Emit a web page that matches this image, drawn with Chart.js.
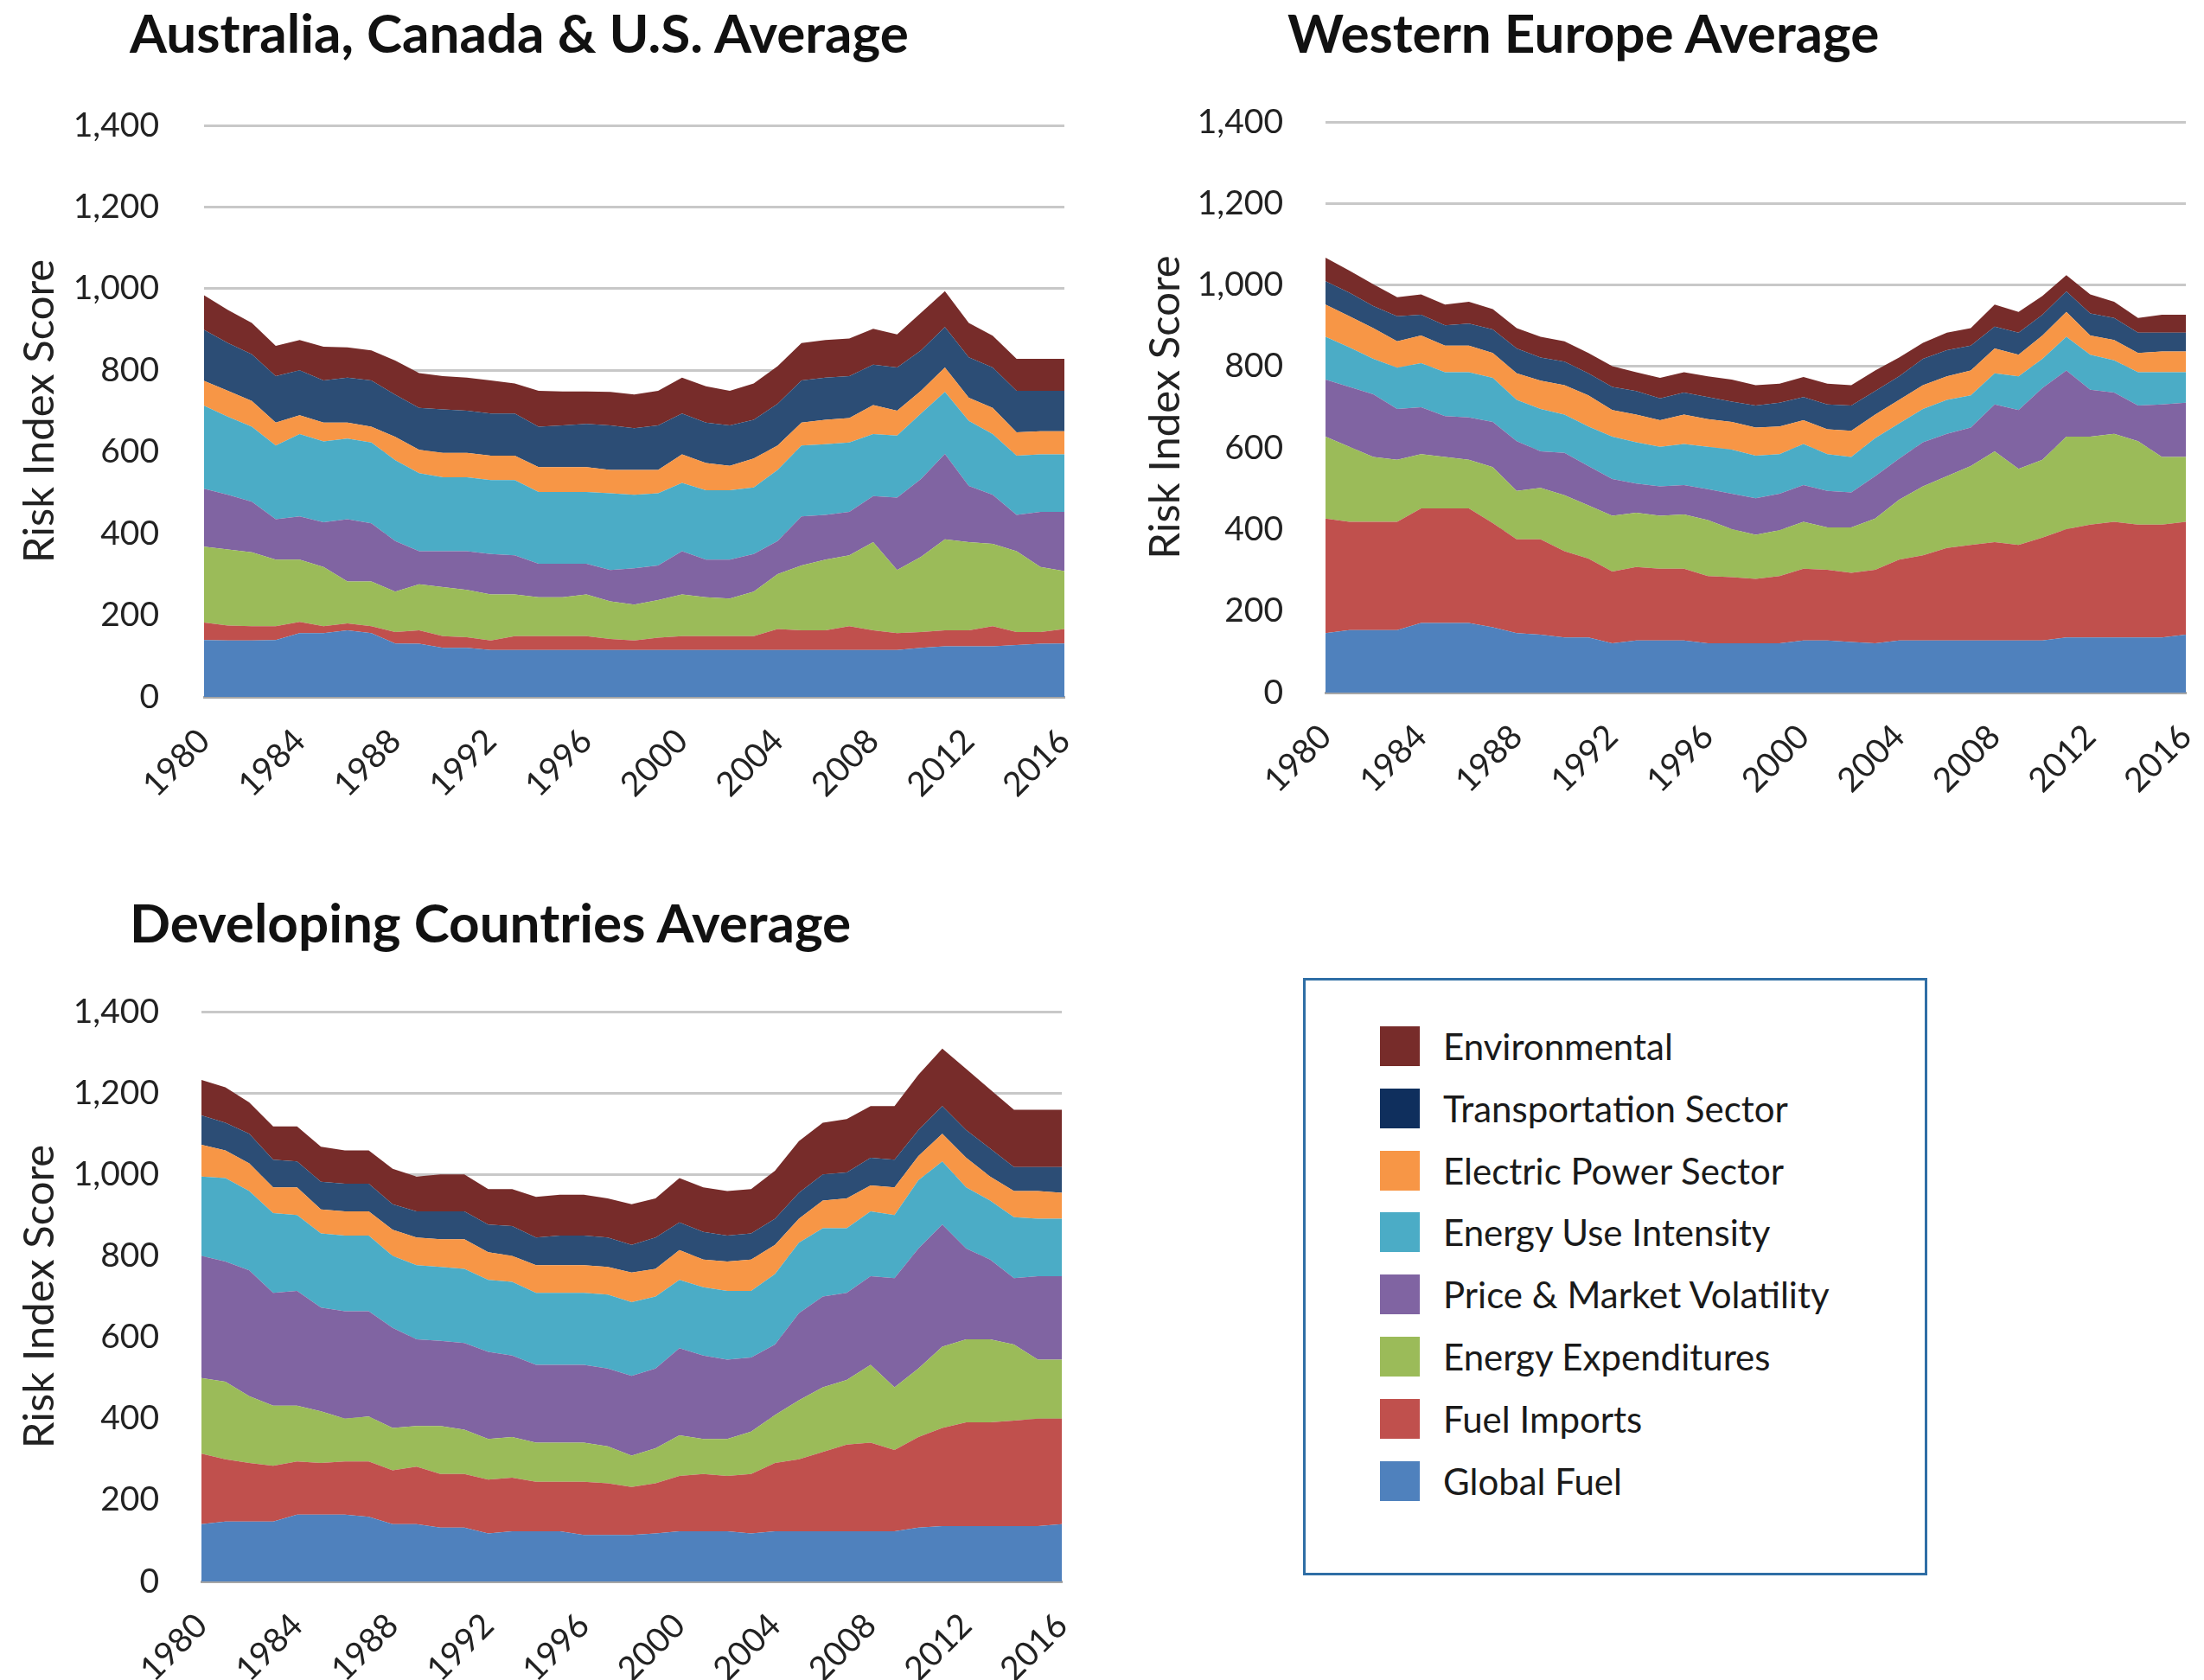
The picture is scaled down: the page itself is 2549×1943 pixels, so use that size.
<!DOCTYPE html>
<html>
<head>
<meta charset="utf-8">
<script src="https://cdn.jsdelivr.net/npm/chart.js@4.4.1/dist/chart.umd.min.js"></script>
<style>
html,body{margin:0;padding:0;background:#ffffff;}
#page{position:relative;width:2549px;height:1943px;overflow:hidden;font-family:Lato, "Open Sans", sans-serif;background:#fff;}
.title{position:absolute;font-weight:700;font-size:62px;color:#111;white-space:nowrap;line-height:1;}
canvas{position:absolute;}
#legend{position:absolute;left:1507px;top:1131px;width:716px;height:685px;border:3px solid #2f6ea5;}
.item{position:absolute;left:86px;width:620px;height:46px;}
.sw{position:absolute;left:0;top:0;width:46px;height:46px;}
.lab{position:absolute;left:73px;top:50%;transform:translateY(-50%);font-size:42px;color:#1a1a1a;white-space:nowrap;line-height:1;}
</style>
</head>
<body>
<div id="page">
  <div class="title" id="t1" style="left:150px;top:6px;"></div>
  <div class="title" id="t2" style="left:1489px;top:6px;"></div>
  <div class="title" id="t3" style="left:150px;top:1035px;"></div>
  <canvas id="c1" width="1250" height="826" style="left:0px;top:100px;"></canvas>
  <canvas id="c2" width="1249" height="825" style="left:1300px;top:96px;"></canvas>
  <canvas id="c3" width="1250" height="818" style="left:0px;top:1125px;"></canvas>
  <div id="legend"></div>
</div>
<script>
// ---------- DATA ----------
const years = [1980,1981,1982,1983,1984,1985,1986,1987,1988,1989,1990,1991,1992,1993,1994,1995,1996,1997,1998,1999,2000,2001,2002,2003,2004,2005,2006,2007,2008,2009,2010,2011,2012,2013,2014,2015,2016];
const xTickLabels = ['1980','1984','1988','1992','1996','2000','2004','2008','2012','2016'];
const yTickValues = [0,200,400,600,800,1000,1200,1400];
const chartTitles = ['Australia, Canada & U.S. Average','Western Europe Average','Developing Countries Average'];
const yAxisTitle = 'Risk Index Score';
// bottom to top stacking order
const seriesNames = ['Global Fuel','Fuel Imports','Energy Expenditures','Price & Market Volatility','Energy Use Intensity','Electric Power Sector','Transportation Sector','Environmental'];

// Australia, Canada & U.S. Average
const acuGlobalFuel = [139,138,138,139,156,156,163,156,131,130,120,120,115,115,115,115,115,115,115,115,115,115,115,115,115,115,115,115,115,115,120,124,124,124,127,130,131];
const acuFuelImports = [43,37,35,34,28,17,17,17,28,33,29,26,23,34,34,34,34,27,23,30,34,34,34,34,51,48,48,58,48,41,39,39,39,49,32,29,35];
const acuExpenditures = [186,186,181,163,152,145,103,110,99,113,120,116,113,102,95,95,102,92,88,92,102,95,92,109,135,159,173,174,216,155,184,223,216,202,198,159,142];
const acuPriceVolatility = [142,134,124,99,106,110,152,142,124,81,88,95,99,96,82,82,75,77,89,85,106,92,95,92,81,120,110,106,113,177,191,209,138,120,89,135,145];
const acuEnergyUse = [203,191,184,181,202,198,198,198,198,191,181,181,181,184,176,176,176,188,180,177,167,170,170,163,174,174,173,170,152,152,160,152,159,149,145,141,141];
const acuElectric = [61,64,63,56,46,46,39,39,57,57,60,60,60,60,61,61,61,57,61,57,70,67,60,71,60,56,60,60,71,61,56,60,57,64,57,57,57];
const acuTransport = [125,117,114,114,110,103,110,113,103,103,106,103,103,103,99,102,106,109,102,109,100,99,99,95,102,103,103,103,99,106,99,99,99,99,102,99,99];
const acuEnvironmental = [85,81,77,74,74,83,74,74,84,85,82,81,81,74,88,83,79,82,83,85,88,89,85,89,92,92,92,92,88,81,92,88,84,78,78,78,78];

// Western Europe Average
const weGlobalFuel = [146,153,153,153,171,171,171,160,146,142,135,135,121,128,128,128,121,121,121,121,128,128,124,121,128,128,128,128,128,128,128,135,135,135,135,135,142];
const weFuelImports = [281,266,266,266,281,281,281,256,230,234,212,194,176,180,176,176,165,162,158,165,176,173,170,180,198,209,227,234,241,234,252,266,277,284,277,277,277];
const weExpenditures = [201,184,159,152,133,126,119,137,119,126,137,130,137,133,130,133,137,118,108,112,115,104,111,126,147,169,176,194,223,187,191,227,216,216,205,166,159];
const wePriceVolatility = [140,147,154,125,115,100,104,111,122,90,104,97,90,72,72,72,76,87,90,90,90,90,86,104,101,108,104,94,115,144,176,162,115,101,87,129,133];
const weEnergyUse = [105,97,87,101,108,108,111,108,101,104,94,97,104,101,97,101,104,108,104,97,101,90,87,93,86,82,83,79,76,83,72,83,86,79,82,79,75];
const weElectric = [79,76,75,65,68,65,65,61,65,69,72,76,65,68,65,72,68,68,69,68,58,61,64,58,58,58,58,61,61,53,57,61,47,50,47,51,51];
const weTransport = [57,58,54,61,51,50,54,58,61,57,58,54,57,58,54,54,54,50,54,58,57,61,62,58,58,65,64,61,54,54,51,50,54,54,50,46,46];
const weEnvironmental = [58,54,54,47,50,51,54,50,50,51,50,50,51,46,50,50,51,54,50,47,49,51,50,50,46,39,43,43,54,51,46,40,47,40,36,44,44];

// Developing Countries Average
const dcGlobalFuel = [141,147,147,147,164,164,164,159,141,141,132,132,118,123,123,123,114,114,114,118,123,123,123,118,123,123,123,123,123,123,132,136,136,136,136,136,141];
const dcFuelImports = [173,153,144,137,131,127,131,136,132,141,132,132,132,132,122,122,131,127,118,123,136,141,136,146,168,177,195,213,218,200,223,241,255,255,259,264,259];
const dcExpenditures = [186,191,164,148,137,127,105,110,104,100,118,109,100,100,96,96,96,91,77,86,100,86,91,104,118,145,159,159,191,154,168,200,204,204,187,145,145];
const dcPriceVolatility = [300,295,309,277,282,255,264,259,246,213,209,213,214,200,191,191,191,191,196,196,214,205,195,182,173,214,223,214,218,268,295,300,223,196,163,205,205];
const dcEnergyUse = [195,205,195,196,186,182,186,186,177,182,182,182,177,181,177,177,177,182,181,177,168,168,169,164,173,173,168,159,159,155,168,155,150,145,150,141,141];
const dcElectric = [78,68,68,63,68,59,59,59,64,68,68,73,68,64,68,68,68,68,73,68,73,68,72,77,72,59,68,73,64,68,59,68,73,59,64,68,64];
const dcTransport = [72,68,73,68,64,68,68,68,63,64,68,68,68,73,68,73,73,72,68,77,68,68,64,64,64,64,64,64,68,68,64,68,68,69,59,59,63];
const dcEnvironmental = [87,87,77,82,86,86,82,82,87,86,91,91,87,91,100,100,100,96,100,96,109,109,109,109,118,127,127,131,127,132,136,141,150,145,141,141,141];

// ---------- STYLE ----------
const fillColors = ['#4f81bd','#c0504d','#9bbb59','#8064a2','#4bacc6','#f79646','#2c4d75','#772c2a'];
const legendColors = ['#4f81bd','#c0504d','#9bbb59','#8064a2','#4bacc6','#f79646','#0f2f5d','#772c2a'];
const FONT = 'Lato, "Open Sans", sans-serif';

function makeChart(id, series, g) {
  const ctx = document.getElementById(id);
  return new Chart(ctx, {
    type: 'line',
    data: {
      labels: years.map(String),
      datasets: series.map((d, i) => ({
        label: seriesNames[i],
        data: d,
        backgroundColor: fillColors[i],
        borderColor: fillColors[i],
        borderWidth: 0,
        pointRadius: 0,
        tension: 0,
        fill: i === 0 ? 'origin' : '-1'
      }))
    },
    options: {
      responsive: false,
      animation: false,
      devicePixelRatio: 1,
      layout: { padding: { left: 0, right: g.padRight, top: g.padTop, bottom: 0 } },
      plugins: { legend: { display: false }, tooltip: { enabled: false }, title: { display: false } },
      scales: {
        x: {
          grid: { display: false, drawTicks: false },
          border: { display: true, color: '#a6a6a6', width: 3 },
          ticks: {
            autoSkip: false, maxRotation: 45, minRotation: 45, padding: g.xTickPad,
            font: { family: FONT, size: 39 }, color: '#222',
            callback: function (v, i) { const l = String(years[i]); return xTickLabels.includes(l) ? l : ''; }
          },
          afterFit: (s) => { s.height = g.xHeight; s.paddingLeft = 0; s.paddingRight = 0; }
        },
        y: {
          stacked: true, min: yTickValues[0], max: yTickValues[yTickValues.length - 1],
          afterBuildTicks: (s) => { s.ticks = yTickValues.map(v => ({ value: v })); },
          grid: { color: '#c8c8c8', lineWidth: 3, drawTicks: false },
          border: { display: false },
          ticks: {
            padding: g.yTickPad, font: { family: FONT, size: 39 }, color: '#222',
            callback: (v) => Number(v).toLocaleString('en-US')
          },
          title: { display: true, text: yAxisTitle, font: { family: FONT, size: 49 }, color: '#222', padding: { top: g.titlePad, bottom: 0 } },
          afterFit: (s) => { s.width = g.yWidth; s.paddingTop = 0; s.paddingBottom = 0; }
        }
      }
    }
  });
}

document.getElementById('t1').textContent = chartTitles[0];
document.getElementById('t2').textContent = chartTitles[1];
document.getElementById('t3').textContent = chartTitles[2];

makeChart('c1', [acuGlobalFuel, acuFuelImports, acuExpenditures, acuPriceVolatility, acuEnergyUse, acuElectric, acuTransport, acuEnvironmental],
  { padRight: 19, padTop: 45, xHeight: 120, yWidth: 236, yTickPad: 52, titlePad: 17, xTickPad: 28 });
makeChart('c2', [weGlobalFuel, weFuelImports, weExpenditures, wePriceVolatility, weEnergyUse, weElectric, weTransport, weEnvironmental],
  { padRight: 21, padTop: 45, xHeight: 120, yWidth: 233, yTickPad: 49, titlePad: 19, xTickPad: 28 });
makeChart('c3', [dcGlobalFuel, dcFuelImports, dcExpenditures, dcPriceVolatility, dcEnergyUse, dcElectric, dcTransport, dcEnvironmental],
  { padRight: 22, padTop: 45, xHeight: 114, yWidth: 233, yTickPad: 49, titlePad: 17, xTickPad: 28 });

// legend (top to bottom: Environmental ... Global Fuel)
const legend = document.getElementById('legend');
for (let k = 0; k < seriesNames.length; k++) {
  const idx = seriesNames.length - 1 - k;
  const item = document.createElement('div');
  item.className = 'item';
  item.style.top = (53 + 71.8 * k) + 'px';
  const sw = document.createElement('div');
  sw.className = 'sw';
  sw.style.background = legendColors[idx];
  const lab = document.createElement('div');
  lab.className = 'lab';
  lab.textContent = seriesNames[idx];
  item.appendChild(sw);
  item.appendChild(lab);
  legend.appendChild(item);
}
</script>
</body>
</html>
